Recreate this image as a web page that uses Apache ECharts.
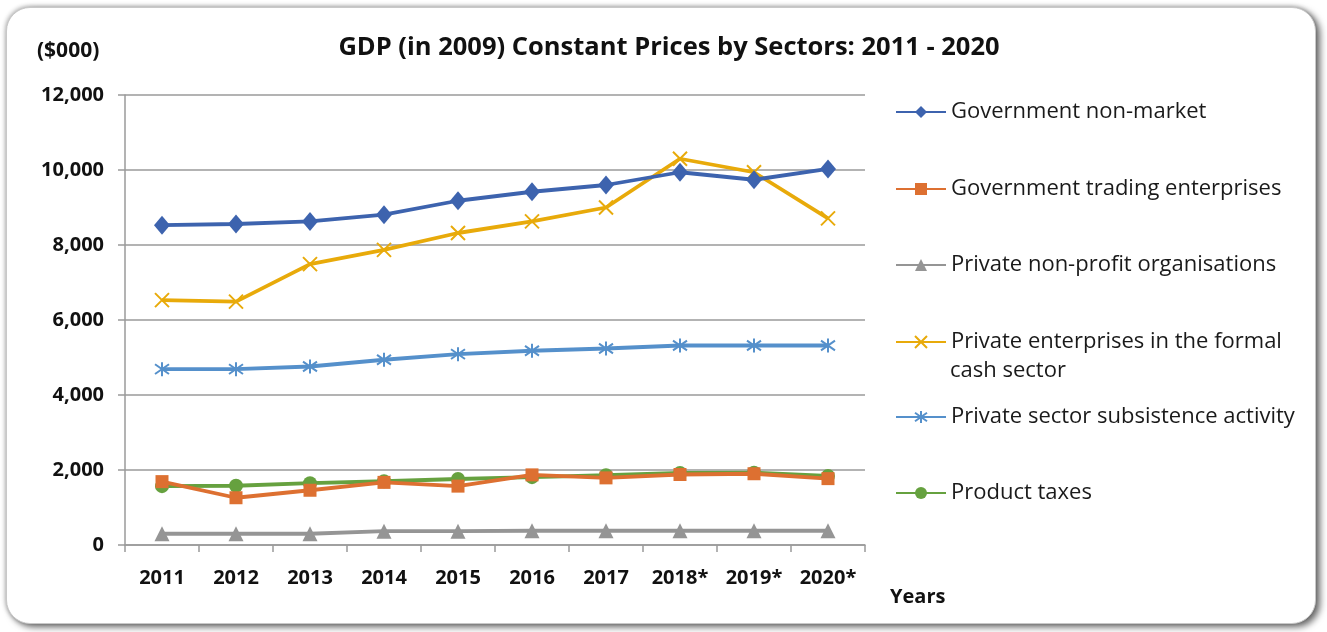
<!DOCTYPE html>
<html>
<head>
<meta charset="utf-8">
<script src="https://cdn.jsdelivr.net/npm/echarts@6/dist/echarts.min.js"></script>
<style>
  html, body { margin: 0; padding: 0; background: #ffffff; }
  #card { position: absolute; left: 6px; top: 7px; width: 1308px; height: 615px; border-radius: 24px;
          background: #fff; border: 1px solid #c8c8c8; box-shadow: 4px 3px 7px rgba(0,0,0,0.6), -1px -1px 4px rgba(0,0,0,0.25); }
  #chart { position: absolute; left: 0; top: 0; width: 1327px; height: 632px; }
</style>
</head>
<body>
<div id="card"></div>
<div id="chart"></div>
<script>
const years = ['2011', '2012', '2013', '2014', '2015', '2016', '2017', '2018*', '2019*', '2020*'];
const govNonMarket = [8530, 8560, 8630, 8810, 9180, 9420, 9600, 9940, 9740, 10030];
const govTrading = [1690, 1260, 1460, 1670, 1570, 1870, 1790, 1880, 1900, 1770];
const privNonProfit = [300, 300, 300, 370, 370, 380, 380, 380, 380, 380];
const privFormal = [6530, 6490, 7490, 7870, 8320, 8630, 9000, 10300, 9940, 8710];
const privSubsistence = [4690, 4690, 4760, 4940, 5090, 5180, 5240, 5320, 5320, 5320];
const productTaxes = [1570, 1580, 1650, 1700, 1760, 1810, 1860, 1920, 1930, 1840];
const yTicks = [0, 2000, 4000, 6000, 8000, 10000, 12000];

const names = ['Government non-market', 'Government trading enterprises', 'Private non-profit organisations',
  'Private enterprises in the formal cash sector', 'Private sector subsistence activity', 'Product taxes'];
const colors = ['#3D63AE', '#DD7031', '#959595', '#E8AA0A', '#5590CB', '#66A13F'];
const FONT = '"Open Sans", Lato, sans-serif';
const xPath = 'path://M0,0 L10,10 M10,0 L0,10';
const starPath = 'path://M0,1.5 L10,8.5 M10,1.5 L0,8.5 M5,0 L5,10';

function mk(i, data, symbol, size, stroke) {
  return {
    name: names[i], type: 'line', data: data, symbol: symbol, symbolSize: size,
    showSymbol: true,
    lineStyle: { color: colors[i], width: 3.8 },
    itemStyle: stroke ? { color: colors[i], borderColor: colors[i], borderWidth: 2 } : { color: colors[i] },
    emphasis: { disabled: true },
    z: 10 - i
  };
}

const legendTops = [101, 178, 254, 331, 406, 482];
const legends = names.map((n, i) => ({
  data: [n], orient: 'vertical', left: 895, top: legendTops[i], padding: 0,
  itemWidth: 50, itemHeight: 15, itemGap: 0,
  textStyle: { fontFamily: FONT, fontSize: 22, color: '#1a1a1a' },
  formatter: i === 3 ? () => 'Private enterprises in the formal' : undefined,
  selectedMode: false
}));

const chart = echarts.init(document.getElementById('chart'), null, { renderer: 'canvas' });
chart.setOption({
  backgroundColor: 'transparent',
  animation: false,
  title: {
    text: 'GDP (in 2009) Constant Prices by Sectors: 2011 - 2020',
    left: 664, top: 30, textAlign: 'center',
    textStyle: { fontFamily: FONT, fontSize: 25.5, fontWeight: 'bold', color: '#111' }
  },
  legend: legends,
  grid: { left: 125, right: 462, top: 95, bottom: 87 },
  xAxis: {
    type: 'category', data: years, boundaryGap: true,
    axisLine: { lineStyle: { color: '#9a9a9a', width: 1.5 } },
    axisTick: { show: true, interval: 0, length: 7, alignWithLabel: false, lineStyle: { color: '#9a9a9a', width: 1.5 } },
    axisLabel: { interval: 0, fontFamily: FONT, fontSize: 20, fontWeight: 'bold', color: '#111', margin: 23 }
  },
  yAxis: {
    type: 'value', min: yTicks[0], max: yTicks[yTicks.length - 1], interval: yTicks[1] - yTicks[0],
    axisLine: { show: true, lineStyle: { color: '#9a9a9a', width: 1.5 } },
    axisTick: { show: true, length: 7, lineStyle: { color: '#9a9a9a', width: 1.5 } },
    splitLine: { lineStyle: { color: '#9a9a9a', width: 1.5 } },
    axisLabel: { fontFamily: FONT, fontSize: 20, fontWeight: 'bold', color: '#111', margin: 21,
      formatter: v => v.toLocaleString('en-US') }
  },
  graphic: [
    { type: 'text', left: 37, top: 41, style: { text: '($000)', fontFamily: FONT, fontSize: 21, fontWeight: 'bold', fill: '#111' } },
    { type: 'text', left: 890, top: 587, style: { text: 'Years', fontFamily: FONT, fontSize: 20, fontWeight: 'bold', fill: '#111' } },
    { type: 'text', left: 950, top: 360, style: { text: 'cash sector', fontFamily: FONT, fontSize: 22, fill: '#1a1a1a' } }
  ],
  series: [
    mk(0, govNonMarket, 'diamond', [16, 19], false),
    mk(1, govTrading, 'rect', 13, false),
    mk(2, privNonProfit, 'triangle', 15, false),
    mk(3, privFormal, xPath, 14, true),
    mk(4, privSubsistence, starPath, 14, true),
    mk(5, productTaxes, 'circle', 14, false)
  ]
});
</script>
</body>
</html>
